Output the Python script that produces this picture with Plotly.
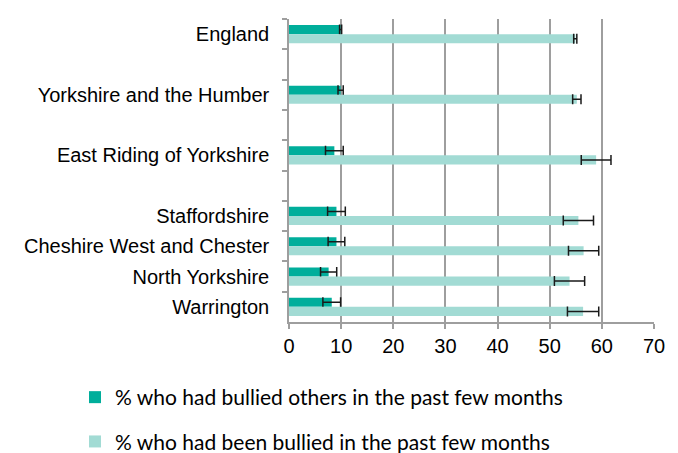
import plotly.graph_objects as go

categories = ["England", " ", "Yorkshire and the Humber", "  ", "East Riding of Yorkshire", "   ",
              "Staffordshire", "Cheshire West and Chester", "North Yorkshire", "Warrington"]
bullied_others = [9.9, None, 9.9, None, 8.7, None, 9.1, 9.1, 7.6, 8.2]
bullied_others_err = [0.2, None, 0.5, None, 1.7, None, 1.7, 1.6, 1.55, 1.7]
been_bullied = [54.9, None, 55.2, None, 58.9, None, 55.5, 56.5, 53.8, 56.4]
been_bullied_err = [0.3, None, 0.8, None, 2.85, None, 2.9, 2.9, 2.9, 3.0]
series_names = ["% who had bullied others in the past few months",
                "% who had been bullied in the past few months"]
x_ticks = [0, 10, 20, 30, 40, 50, 60, 70]

W, H = 670, 445

fig = go.Figure()
fig.add_trace(go.Bar(
    y=categories, x=bullied_others, orientation="h", name=series_names[0],
    marker=dict(color="#00ae9b", line=dict(width=0)), legendgroup="a",
    error_x=dict(type="data", array=bullied_others_err, color="#1a1a1a", thickness=1.5, width=5),
))
fig.add_trace(go.Bar(
    y=categories, x=been_bullied, orientation="h", name=series_names[1],
    marker=dict(color="#a2dbd4", line=dict(width=0)), legendgroup="b",
    error_x=dict(type="data", array=been_bullied_err, color="#1a1a1a", thickness=1.5, width=5),
))

fig.update_layout(
    width=W, height=H,
    margin=dict(l=281, r=24, t=11, b=131, autoexpand=False),
    paper_bgcolor="white", plot_bgcolor="white",
    barmode="group", bargap=0.4, bargroupgap=0,
    font=dict(family="Liberation Sans, Arial, sans-serif", size=20, color="#000000"),
    legend=dict(
        xref="container", yref="container", x=67/W, y=1-369/H,
        xanchor="left", yanchor="top", orientation="v",
        traceorder="grouped", tracegroupgap=14,
        font=dict(family="Lato, Calibri, sans-serif", size=21, color="#000000"),
        bgcolor="rgba(0,0,0,0)",
    ),
    xaxis=dict(
        range=[0, 70], tickmode="array", tickvals=x_ticks, ticktext=[str(v) for v in x_ticks],
        showgrid=True, gridcolor="#9e9e9e", gridwidth=1.5,
        showline=True, linecolor="#9e9e9e", linewidth=1.5,
        ticks="outside", ticklen=5, tickcolor="#9e9e9e", tickwidth=1.5,
        zeroline=False, fixedrange=True, automargin=False, tickangle=0,
    ),
    yaxis=dict(
        type="category", autorange="reversed",
        categoryorder="array", categoryarray=categories,
        showline=True, linecolor="#9e9e9e", linewidth=1.5,
        ticks="outside", ticklen=5, tickcolor="#9e9e9e", tickwidth=1.5,
        tickson="boundaries", showgrid=False, zeroline=False,
        ticklabelstandoff=14, automargin=False,
    ),
)

fig.write_html("out.html")
